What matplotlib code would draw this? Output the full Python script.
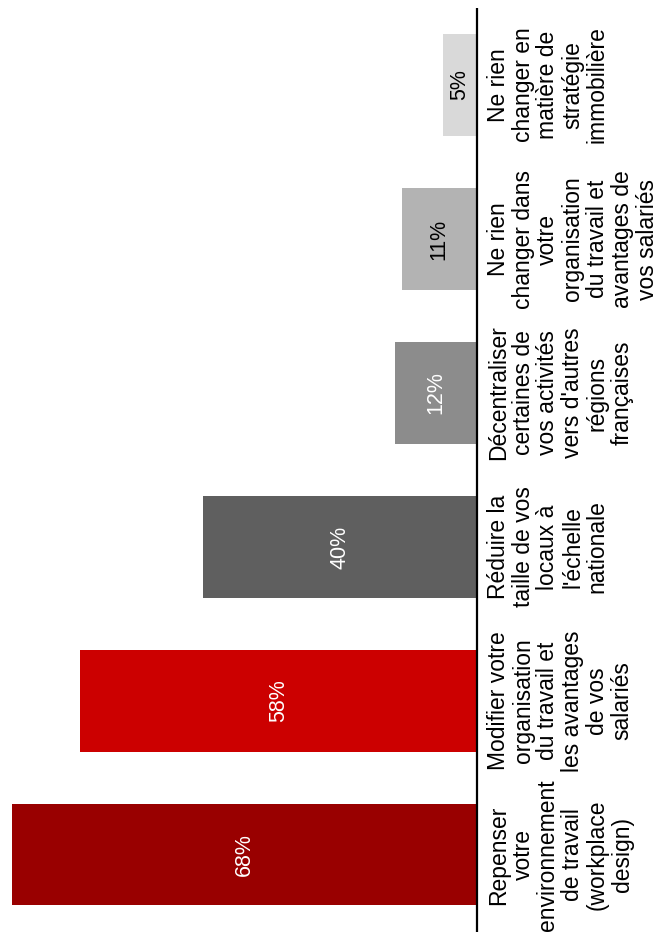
"""Rotated bar chart: priorities for real-estate strategy (survey shares)."""

import matplotlib

matplotlib.use("Agg")
import matplotlib.pyplot as plt

# --------------------------------------------------------------------- #
# Data
# --------------------------------------------------------------------- #
LABELS = [
    "Repenser\nvotre\nenvironnement\nde travail\n(workplace\ndesign)",
    "Modifier votre\norganisation\ndu travail et\nles avantages\nde vos\nsalariés",
    "Réduire la\ntaille de vos\nlocaux à\nl'échelle\nnationale",
    "Décentraliser\ncertaines de\nvos activités\nvers d'autres\nrégions\nfrançaises",
    "Ne rien\nchanger dans\nvotre\norganisation\ndu travail et\navantages de\nvos salariés",
    "Ne rien\nchanger en\nmatière de\nstratégie\nimmobilière",
]
VALUES = [68, 58, 40, 12, 11, 5]
COLORS = ["#990000", "#cc0000", "#5f5f5f", "#8c8c8c", "#b3b3b3", "#d9d9d9"]
TEXT_COLORS = ["white", "white", "white", "white", "black", "black"]

plt.rcParams["font.family"] = ["Liberation Sans", "DejaVu Sans"]

W, H, DPI = 662, 948, 100
fig = plt.figure(figsize=(W / DPI, H / DPI), dpi=DPI)
ax = fig.add_axes([0, 0, 477 / W, 1])

pos = list(range(len(VALUES)))
ax.barh(pos, VALUES, height=0.656, color=COLORS, edgecolor="none")
ax.set_xlim(69.7, 0)
ax.set_ylim(-0.604, 5.552)
ax.axis("off")

# baseline
ax.plot([0, 0], [-0.5, 5.5], color="black", lw=1.6, clip_on=False,
        solid_capstyle="butt")

for i, (val, lab) in enumerate(zip(VALUES, LABELS)):
    ax.text(val / 2, i, f"{val}%", rotation=90, ha="center", va="center",
            color=TEXT_COLORS[i], fontsize=15.5)
    ax.annotate(lab, xy=(0, i), xytext=(7, 0), textcoords="offset points",
                rotation=90, ha="left", va="center", multialignment="center",
                fontsize=16.5, linespacing=1.1, annotation_clip=False)

fig.savefig("out.png", dpi=DPI)
